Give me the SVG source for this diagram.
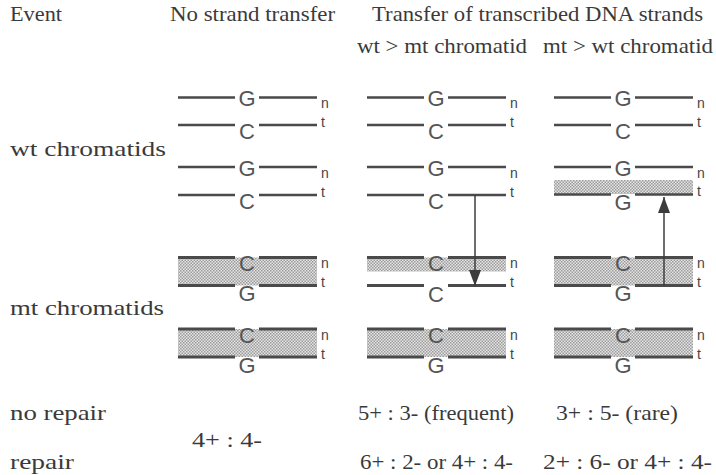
<svg xmlns="http://www.w3.org/2000/svg" width="716" height="475" viewBox="0 0 716 475">
  <defs>
    <!-- stipple used to mark mutant (shaded) strands -->
    <pattern id="stipple" width="3" height="3" patternUnits="userSpaceOnUse">
      <rect width="3" height="3" fill="#e4e4e4"/>
      <rect x="0" y="0" width="1.5" height="1.5" fill="#9c9c9c"/>
      <rect x="1.5" y="1.5" width="1.5" height="1.5" fill="#9c9c9c"/>
    </pattern>
    <!-- filled triangular head, tip at the end of the line -->
    <marker id="head" viewBox="0 0 16 12" refX="16" refY="6" markerWidth="16" markerHeight="12" markerUnits="userSpaceOnUse" orient="auto">
      <path d="M0,0 L16,6 L0,12 Z" fill="#3c3c3c"/>
    </marker>
  </defs>
  <style>
    .lbl { font-family: "Liberation Serif", "Times New Roman", serif; font-size: 22px; fill: #3a3a3a; }
    .base { font-family: "Liberation Sans", Arial, sans-serif; font-size: 22px; fill: #555; text-anchor: middle; }
    .end { font-family: "Liberation Sans", Arial, sans-serif; font-size: 14px; fill: #444; }
    .strand { stroke: #4a4a4a; stroke-width: 2.5; fill: none; }
    .mt { stroke-width: 3; }
    .band { fill: url(#stipple); }
    .arrow { stroke: #3c3c3c; stroke-width: 1.5; fill: none; }
  </style>

  <!-- headings -->
  <g id="headings">
    <text class="lbl" x="10" y="21" textLength="52" lengthAdjust="spacingAndGlyphs">Event</text>
    <text class="lbl" x="170" y="21" textLength="165" lengthAdjust="spacingAndGlyphs">No strand transfer</text>
    <text class="lbl" x="372" y="21" textLength="331" lengthAdjust="spacingAndGlyphs">Transfer of transcribed DNA strands</text>
    <text class="lbl" x="357" y="53" textLength="170" lengthAdjust="spacingAndGlyphs">wt &gt; mt chromatid</text>
    <text class="lbl" x="543" y="53" textLength="170" lengthAdjust="spacingAndGlyphs">mt &gt; wt chromatid</text>
    <text class="lbl" x="10" y="156" textLength="156" lengthAdjust="spacingAndGlyphs">wt chromatids</text>
    <text class="lbl" x="10" y="315" textLength="154" lengthAdjust="spacingAndGlyphs">mt chromatids</text>
  </g>

  <!-- column 1: no strand transfer -->
  <g id="col1">
    <g id="col1-wt1">
      <path class="strand" d="M178,97.5 H235 M259,97.5 H317 M178,125 H235 M259,125 H317"/>
      <text class="base" x="247" y="106">G</text>
      <text class="base" x="247" y="139">C</text>
      <text class="end" x="321" y="108">n</text>
      <text class="end" x="321" y="126.5">t</text>
    </g>
    <g id="col1-wt2">
      <path class="strand" d="M178,167 H235 M259,167 H317 M178,195 H235 M259,195 H317"/>
      <text class="base" x="247" y="175.5">G</text>
      <text class="base" x="247" y="209">C</text>
      <text class="end" x="321" y="177.5">n</text>
      <text class="end" x="321" y="196.5">t</text>
    </g>
    <g id="col1-mt1">
      <rect class="band" x="178" y="257.5" width="139" height="28"/>
      <path class="strand mt" d="M178,257.5 H235 M259,257.5 H317 M178,285.5 H235 M259,285.5 H317"/>
      <text class="base" x="247" y="271">C</text>
      <text class="base" x="247" y="301">G</text>
      <text class="end" x="321" y="268">n</text>
      <text class="end" x="321" y="287">t</text>
    </g>
    <g id="col1-mt2">
      <rect class="band" x="178" y="329" width="139" height="28"/>
      <path class="strand mt" d="M178,329 H235 M259,329 H317 M178,357 H235 M259,357 H317"/>
      <text class="base" x="247" y="343">C</text>
      <text class="base" x="247" y="373">G</text>
      <text class="end" x="321" y="339.5">n</text>
      <text class="end" x="321" y="358.5">t</text>
    </g>
  </g>

  <!-- column 2: wt > mt chromatid -->
  <g id="col2">
    <g id="col2-wt1">
      <path class="strand" d="M367,97.5 H424 M448,97.5 H506 M367,125 H424 M448,125 H506"/>
      <text class="base" x="436" y="106">G</text>
      <text class="base" x="436" y="139">C</text>
      <text class="end" x="510" y="108">n</text>
      <text class="end" x="510" y="126.5">t</text>
    </g>
    <g id="col2-wt2">
      <path class="strand" d="M367,167 H424 M448,167 H506 M367,195 H424 M448,195 H506"/>
      <text class="base" x="436" y="175.5">G</text>
      <text class="base" x="436" y="209">C</text>
      <text class="end" x="510" y="177.5">n</text>
      <text class="end" x="510" y="196.5">t</text>
    </g>
    <g id="col2-mt1">
      <rect class="band" x="367" y="257.5" width="139" height="14"/>
      <path class="strand mt" d="M367,257.5 H424 M448,257.5 H506 M367,285.5 H424 M448,285.5 H506"/>
      <text class="base" x="436" y="271">C</text>
      <text class="base" x="436" y="302">C</text>
      <text class="end" x="510" y="268">n</text>
      <text class="end" x="510" y="287">t</text>
    </g>
    <g id="col2-mt2">
      <rect class="band" x="367" y="329" width="139" height="28"/>
      <path class="strand mt" d="M367,329 H424 M448,329 H506 M367,357 H424 M448,357 H506"/>
      <text class="base" x="436" y="343">C</text>
      <text class="base" x="436" y="373">G</text>
      <text class="end" x="510" y="339.5">n</text>
      <text class="end" x="510" y="358.5">t</text>
    </g>
  </g>

  <!-- column 3: mt > wt chromatid -->
  <g id="col3">
    <g id="col3-wt1">
      <path class="strand" d="M554,97.5 H611 M635,97.5 H693 M554,125 H611 M635,125 H693"/>
      <text class="base" x="623" y="106">G</text>
      <text class="base" x="623" y="139">C</text>
      <text class="end" x="697" y="108">n</text>
      <text class="end" x="697" y="126.5">t</text>
    </g>
    <g id="col3-wt2">
      <rect class="band" x="554" y="180" width="139" height="14"/>
      <path class="strand" d="M554,167 H611 M635,167 H693 M554,194.5 H611 M635,194.5 H693"/>
      <text class="base" x="623" y="175.5">G</text>
      <text class="base" x="623" y="210">G</text>
      <text class="end" x="697" y="177.5">n</text>
      <text class="end" x="697" y="196">t</text>
    </g>
    <g id="col3-mt1">
      <rect class="band" x="554" y="257.5" width="139" height="28"/>
      <path class="strand mt" d="M554,257.5 H611 M635,257.5 H693 M554,285.5 H611 M635,285.5 H693"/>
      <text class="base" x="623" y="271">C</text>
      <text class="base" x="623" y="301">G</text>
      <text class="end" x="697" y="268">n</text>
      <text class="end" x="697" y="287">t</text>
    </g>
    <g id="col3-mt2">
      <rect class="band" x="554" y="329" width="139" height="28"/>
      <path class="strand mt" d="M554,329 H611 M635,329 H693 M554,357 H611 M635,357 H693"/>
      <text class="base" x="623" y="343">C</text>
      <text class="base" x="623" y="373">G</text>
      <text class="end" x="697" y="339.5">n</text>
      <text class="end" x="697" y="358.5">t</text>
    </g>
  </g>

  <!-- strand transfer arrows -->
  <g id="connectors">
    <line class="arrow" x1="475" y1="195" x2="475" y2="286" marker-end="url(#head)"/>
    <line class="arrow" x1="664" y1="285.5" x2="664" y2="197" marker-end="url(#head)"/>
  </g>

  <!-- segregation outcomes -->
  <g id="outcomes">
    <text class="lbl" x="10" y="420" textLength="96" lengthAdjust="spacingAndGlyphs">no repair</text>
    <text class="lbl" x="10" y="469" textLength="64" lengthAdjust="spacingAndGlyphs">repair</text>
    <text class="lbl" x="192" y="447" textLength="70" lengthAdjust="spacingAndGlyphs">4+ : 4-</text>
    <text class="lbl" x="358" y="420" textLength="156" lengthAdjust="spacingAndGlyphs">5+ : 3- (frequent)</text>
    <text class="lbl" x="556" y="420" textLength="122" lengthAdjust="spacingAndGlyphs">3+ : 5- (rare)</text>
    <text class="lbl" x="360" y="469" textLength="153" lengthAdjust="spacingAndGlyphs">6+ : 2- or 4+ : 4-</text>
    <text class="lbl" x="543" y="469" textLength="169" lengthAdjust="spacingAndGlyphs">2+ : 6- or 4+ : 4-</text>
  </g>
</svg>
